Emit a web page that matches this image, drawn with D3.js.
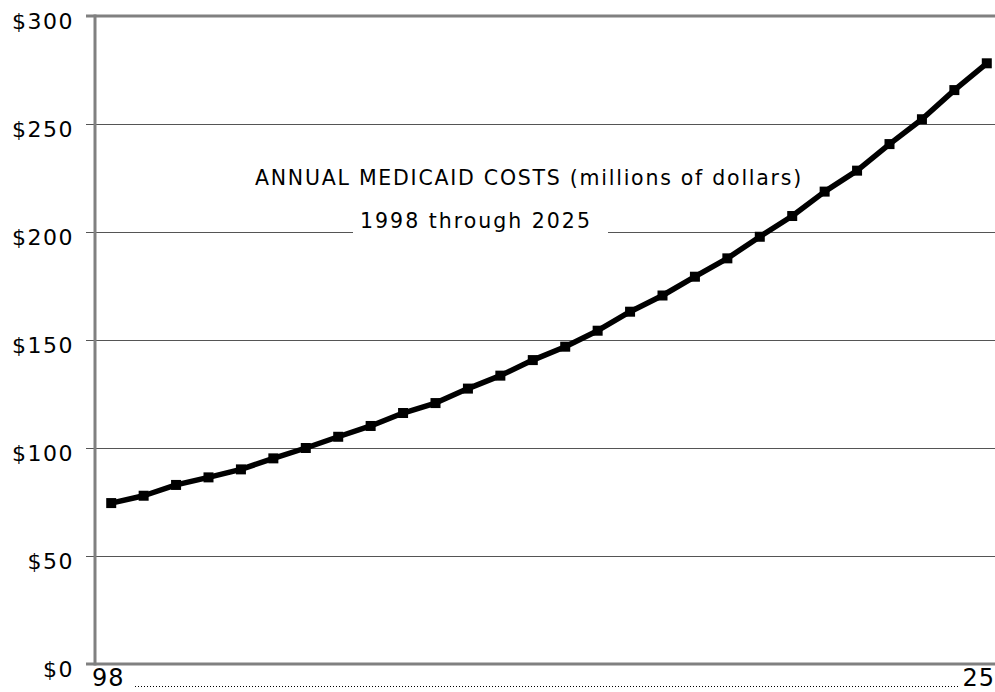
<!DOCTYPE html>
<html>
<head>
<meta charset="utf-8">
<script src="https://cdn.jsdelivr.net/npm/d3@7"></script>
<style>
  html, body { margin: 0; padding: 0; background: #fff; overflow: hidden; }
  svg { display: block; }
  text { font-family: "DejaVu Sans", Verdana, sans-serif; fill: #000; }
</style>
</head>
<body>
<svg id="chart" width="995" height="692"></svg>
<script>
const years = [1998,1999,2000,2001,2002,2003,2004,2005,2006,2007,2008,2009,2010,2011,2012,2013,2014,2015,2016,2017,2018,2019,2020,2021,2022,2023,2024,2025];
const costs = [74.5,77.9,82.9,86.4,90.1,95.2,100.0,105.2,110.2,116.2,120.8,127.5,133.5,140.7,146.9,154.3,163.1,170.6,179.3,187.8,197.8,207.4,218.7,228.4,240.7,252.2,265.7,278.1];
const yTicks = [0,50,100,150,200,250,300];
const xEndLabels = ["98","25"];
const titleLine1 = "ANNUAL MEDICAID COSTS (millions of dollars)";
const titleLine2 = "1998 through 2025";

const svg = d3.select("#chart");
const pL = 95, pR = 1003, pT = 16, pB = 664;

const x = d3.scalePoint().domain(years).range([pL, pR]).padding(0.5);
const y = d3.scaleLinear().domain([0, 300]).range([pB, pT]);

// gridlines with ticks extending left
const yAxis = d3.axisLeft(y).tickValues(yTicks)
  .tickSize(-(995 - pL)).tickFormat(d => "$" + d).tickPadding(23);
const gy = svg.append("g").attr("transform", `translate(${pL},0)`).call(yAxis);
gy.select(".domain").remove();
gy.selectAll(".tick line").attr("x1", -9).attr("stroke", "#555").attr("stroke-width", 1.2);
gy.selectAll(".tick text").attr("font-size", 22).attr("dy", "0.55em")
  .attr("letter-spacing", 1.5).attr("x", -21)
  .style("font-family", "'DejaVu Sans', Verdana, sans-serif");

// frame lines (gray, thick)
svg.append("line").attr("x1", pL - 9).attr("x2", 995).attr("y1", pT).attr("y2", pT)
  .attr("stroke", "#808080").attr("stroke-width", 3);
svg.append("line").attr("x1", pL - 9).attr("x2", 995).attr("y1", pB).attr("y2", pB)
  .attr("stroke", "#808080").attr("stroke-width", 3);
svg.append("line").attr("x1", pL).attr("x2", pL).attr("y1", pT - 1.5).attr("y2", pB + 1.5)
  .attr("stroke", "#808080").attr("stroke-width", 3);

// titles
svg.append("text").attr("x", 529).attr("y", 185).attr("text-anchor", "middle")
  .attr("font-size", 20.5).attr("letter-spacing", 1.75).text(titleLine1);
const t2g = svg.append("g");
const t2bg = t2g.append("rect").attr("fill", "#fff");
const t2 = t2g.append("text").attr("x", 476).attr("y", 228).attr("text-anchor", "middle")
  .attr("font-size", 20.5).attr("letter-spacing", 2).text(titleLine2);
t2bg.attr("x", 353).attr("width", 608 - 353).attr("y", y(200) - 3).attr("height", 6);

// line + markers
const line = d3.line().x((d, i) => x(years[i])).y(d => y(d));
svg.append("path").datum(costs).attr("d", line).attr("fill", "none")
  .attr("stroke", "#000").attr("stroke-width", 5.5).attr("stroke-linejoin", "round");
svg.selectAll("rect.m").data(costs).enter().append("rect").attr("class", "m")
  .attr("x", (d, i) => x(years[i]) - 5).attr("y", d => y(d) - 5)
  .attr("width", 10).attr("height", 10).attr("fill", "#000");

// x axis end labels and dotted line
svg.append("text").attr("x", 92).attr("y", 686).attr("font-size", 24).attr("letter-spacing", 1).text(xEndLabels[0]);
svg.append("text").attr("x", 995).attr("y", 686).attr("text-anchor", "end").attr("font-size", 24).attr("letter-spacing", 1).text(xEndLabels[1]);
svg.append("line").attr("x1", 135).attr("x2", 958).attr("y1", 686.5).attr("y2", 686.5)
  .attr("stroke", "#000").attr("stroke-width", 1).attr("stroke-dasharray", "1,2");
</script>
</body>
</html>
